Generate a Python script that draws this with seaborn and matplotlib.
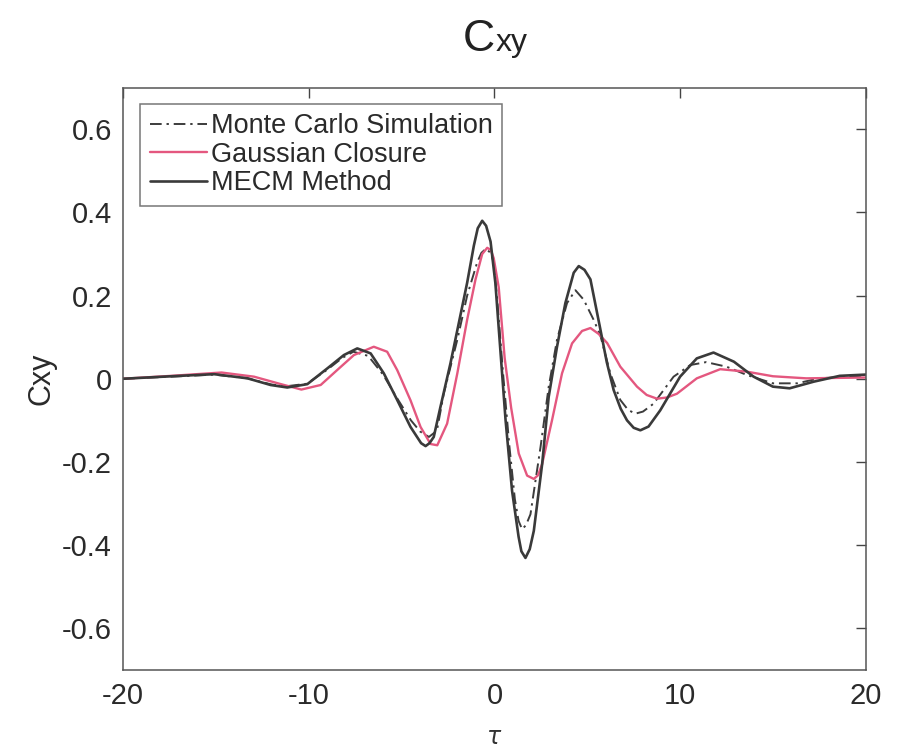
import matplotlib
matplotlib.use("Agg")
import matplotlib.pyplot as plt
import seaborn as sns
import pandas as pd
from matplotlib.ticker import FuncFormatter

# ---- data ----
mc_tau = [-20, -17.4, -15.1, -13.3, -12.0, -11.2, -10.1, -9.0, -8.2, -7.6, -6.8, -6.0, -5.2, -4.5,
          -4.0, -3.53, -3.1, -2.73, -2.0, -1.47, -0.93, -0.7, -0.45, -0.2, -0.04, 0.15, 0.45, 0.8,
          1.1, 1.3, 1.49, 1.7, 1.94, 2.48, 2.92, 3.37, 3.91, 4.36, 4.81, 5.34, 5.7, 6.24, 6.78,
          7.2, 7.59, 8.0, 8.57, 9.65, 10.55, 11.4, 12.5, 13.6, 15.0, 16.3, 17.5, 20]
mc_val = [0.0, 0.005, 0.01, 0.001, -0.014, -0.018, -0.012, 0.022, 0.05, 0.065, 0.055, 0.01, -0.05,
          -0.1, -0.127, -0.14, -0.125, -0.036, 0.094, 0.2, 0.28, 0.303, 0.313, 0.302, 0.28, 0.19,
          0.02, -0.16, -0.29, -0.342, -0.362, -0.352, -0.326, -0.165, -0.02, 0.094, 0.182, 0.213,
          0.19, 0.142, 0.105, 0.013, -0.051, -0.075, -0.084, -0.079, -0.06, 0.005, 0.033, 0.04,
          0.029, 0.009, -0.011, -0.011, 0.001, 0.008]

gc_tau = [-20, -17.4, -14.7, -12.95, -11.5, -10.4, -9.36, -8.47, -7.57, -6.5, -5.78, -5.24, -4.52,
          -3.98, -3.44, -3.08, -2.55, -2.0, -1.47, -1.02, -0.66, -0.39, -0.2, -0.04, 0.23, 0.55,
          0.9, 1.31, 1.76, 2.12, 2.35, 2.57, 3.1, 3.64, 4.18, 4.72, 5.17, 5.61, 6.07, 6.78, 7.68,
          8.2, 8.76, 9.3, 9.83, 10.9, 12.16, 13.6, 15.0, 16.8, 20]
gc_val = [0.0, 0.007, 0.015, 0.005, -0.013, -0.026, -0.015, 0.021, 0.057, 0.077, 0.065, 0.021,
          -0.052, -0.116, -0.157, -0.16, -0.108, 0.013, 0.142, 0.239, 0.3, 0.315, 0.31, 0.29, 0.22,
          0.05, -0.07, -0.18, -0.233, -0.241, -0.232, -0.205, -0.1, 0.013, 0.085, 0.115, 0.122,
          0.108, 0.086, 0.029, -0.019, -0.039, -0.048, -0.045, -0.036, 0.001, 0.023, 0.017, 0.006,
          0.001, 0.003]

me_tau = [-20, -17.4, -15.1, -13.3, -12.06, -11.16, -10.08, -9.0, -8.11, -7.39, -6.67, -5.96, -5.24,
          -4.52, -3.95, -3.71, -3.5, -3.27, -2.91, -2.37, -1.92, -1.47, -1.11, -0.9, -0.66, -0.45,
          -0.21, 0.05, 0.3, 0.6, 0.95, 1.3, 1.45, 1.67, 1.9, 2.12, 2.57, 2.92, 3.37, 3.82, 4.27,
          4.54, 4.85, 5.17, 5.7, 6.05, 6.42, 6.8, 7.14, 7.5, 7.86, 8.3, 8.93, 10.0, 10.9, 11.8,
          12.9, 13.96, 15.0, 15.9, 17.2, 18.6, 20]
me_val = [0.0, 0.006, 0.011, 0.001, -0.015, -0.021, -0.013, 0.025, 0.057, 0.073, 0.061, 0.013,
          -0.051, -0.116, -0.155, -0.162, -0.155, -0.14, -0.068, 0.037, 0.134, 0.231, 0.32, 0.362,
          0.38, 0.368, 0.33, 0.23, 0.08, -0.1, -0.27, -0.38, -0.415, -0.431, -0.41, -0.366, -0.205,
          -0.044, 0.077, 0.182, 0.255, 0.271, 0.262, 0.239, 0.12, 0.04, -0.027, -0.072, -0.1,
          -0.118, -0.124, -0.115, -0.076, 0.005, 0.049, 0.063, 0.041, 0.005, -0.019, -0.023,
          -0.007, 0.007, 0.01]

series_names = ["Monte Carlo Simulation", "Gaussian Closure", "MECM Method"]
x_ticks = [-20, -10, 0, 10, 20]
y_ticks = [-0.6, -0.4, -0.2, 0, 0.2, 0.4, 0.6]

# ---- plotting ----
sns.set_style("white")
plt.rcParams['font.family'] = ['Liberation Sans', 'DejaVu Sans']

fig = plt.figure(figsize=(8.99, 7.5), dpi=100)
ax = fig.add_axes([0.137, 0.107, 0.826, 0.776])

data = [(mc_tau, mc_val), (gc_tau, gc_val), (me_tau, me_val)]
styles = [dict(color="#3c3c3c", linestyle=(0, (6, 2.5, 1.2, 2.5)), linewidth=1.4),
          dict(color="#e4577f", linestyle="-", linewidth=1.7),
          dict(color="#3a3a3a", linestyle="-", linewidth=1.9)]

for name, (t, v), st in zip(series_names, data, styles):
    df = pd.DataFrame({"tau": t, "Cxy": v})
    sns.lineplot(data=df, x="tau", y="Cxy", ax=ax, label=name, estimator=None, sort=True,
                 solid_joinstyle="round", dash_joinstyle="round", **st)

ax.set_xlim(-20, 20)
ax.set_ylim(-0.7, 0.7)
ax.set_xticks(x_ticks)
ax.set_yticks(y_ticks)
ax.xaxis.set_major_formatter(FuncFormatter(lambda v, p: f"{v:g}"))
ax.yaxis.set_major_formatter(FuncFormatter(lambda v, p: "0" if abs(v) < 1e-9 else f"{v:.1f}"))
ax.tick_params(direction="in", length=7, width=1, colors="#444444", labelsize=21,
               top=True, right=True, labelcolor="#2a2a2a")
ax.tick_params(axis="x", pad=9)
ax.tick_params(axis="y", pad=8)
for s in ax.spines.values():
    s.set_color("#555555")
    s.set_linewidth(1.1)

ax.set_xlabel("$\\tau$", fontsize=17, color="#333333", labelpad=12)
ax.set_ylabel("Cxy", fontsize=22, color="#2a2a2a", labelpad=4)

# title: large C followed by smaller "xy"
fig.text(0.551, 0.932, "C", fontsize=32, ha="right", va="baseline", color="#222222")
fig.text(0.551, 0.932, "xy", fontsize=23, ha="left", va="baseline", color="#222222")

leg = ax.legend(loc="upper left", fontsize=19.5, frameon=True, fancybox=False,
                handlelength=2.1, handletextpad=0.15, borderpad=0.35, labelspacing=0.09,
                bbox_to_anchor=(0.023, 0.9725), borderaxespad=0)
leg.get_frame().set_edgecolor("#555555")
leg.get_frame().set_linewidth(1.1)
for txt in leg.get_texts():
    txt.set_color("#2a2a2a")

fig.savefig("out.png", dpi=100)
